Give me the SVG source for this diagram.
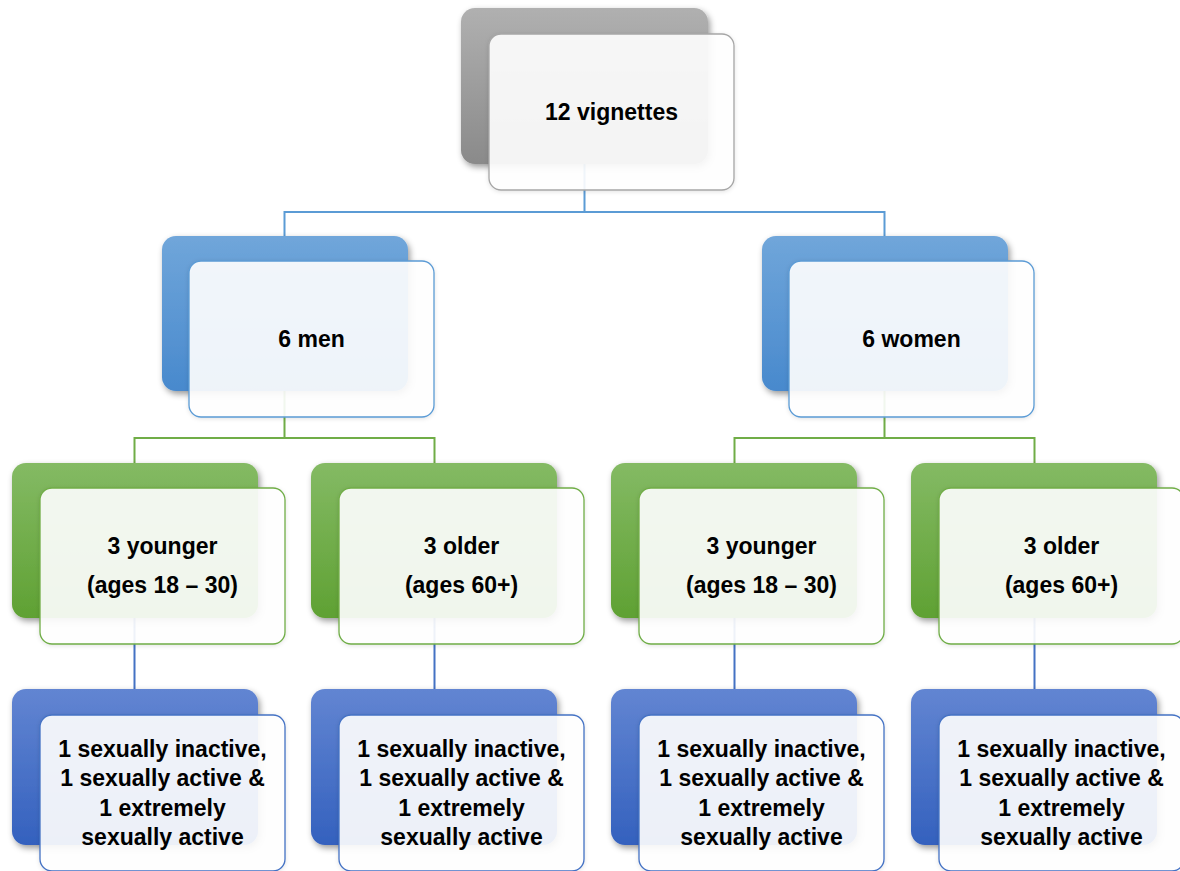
<svg xmlns="http://www.w3.org/2000/svg" width="1180" height="871" viewBox="0 0 1180 871">
<defs>
<linearGradient id="gGray" x1="0" y1="0" x2="0" y2="1"><stop offset="0" stop-color="#b0b0b0"/><stop offset="1" stop-color="#8a8a8a"/></linearGradient>
<linearGradient id="gBlue" x1="0" y1="0" x2="0" y2="1"><stop offset="0" stop-color="#70a6da"/><stop offset="1" stop-color="#4889cd"/></linearGradient>
<linearGradient id="gGreen" x1="0" y1="0" x2="0" y2="1"><stop offset="0" stop-color="#84ba64"/><stop offset="1" stop-color="#5fa133"/></linearGradient>
<linearGradient id="gDark" x1="0" y1="0" x2="0" y2="1"><stop offset="0" stop-color="#6285d2"/><stop offset="1" stop-color="#3461be"/></linearGradient>
<filter id="sh" x="-10%" y="-10%" width="125%" height="130%"><feDropShadow dx="2" dy="3" stdDeviation="3" flood-color="#000" flood-opacity="0.4"/></filter>
<filter id="sh2" x="-10%" y="-10%" width="125%" height="130%"><feDropShadow dx="0" dy="1" stdDeviation="2" flood-color="#000" flood-opacity="0.12"/></filter>
</defs>
<style>
.back{stroke:none;filter:url(#sh)}
.front{fill:#ffffff;fill-opacity:0.9;stroke-width:1.3;filter:url(#sh2)}
.t{font-family:"Liberation Sans",Arial,sans-serif;font-weight:bold;font-size:23px;fill:#000;text-anchor:middle}
.c{fill:none;stroke-width:2}
</style>
<g id="connectors">
<path class="c" stroke="#5b9bd5" d="M584.5 164 V212 M284.5 236 V212 H884.5 V236"/>
<path class="c" stroke="#70ad47" d="M284.5 391 V438 M134.5 463 V438 H434.5 V463 M884.5 391 V438 M734.5 463 V438 H1034.5 V463"/>
<path class="c" stroke="#4472c4" d="M134.5 618 V689 M434.5 618 V689 M734.5 618 V689 M1034.5 618 V689"/>
</g>
<g id="n-top">
<rect class="back" x="461" y="8" width="247" height="156" rx="14" fill="url(#gGray)"/>
<rect class="front" x="489" y="34" width="245" height="156" rx="12" stroke="#a6a6a6"/>
<text class="t" x="611.5" y="120">12 vignettes</text>
</g>
<g id="n-men">
<rect class="back" x="162" y="236" width="246" height="155" rx="14" fill="url(#gBlue)"/>
<rect class="front" x="189" y="261" width="245" height="156" rx="12" stroke="#5b9bd5"/>
<text class="t" x="311.5" y="347">6 men</text>
</g>
<g id="n-women">
<rect class="back" x="762" y="236" width="246" height="155" rx="14" fill="url(#gBlue)"/>
<rect class="front" x="789" y="261" width="245" height="156" rx="12" stroke="#5b9bd5"/>
<text class="t" x="911.5" y="347">6 women</text>
</g>
<g id="n-men-young">
<rect class="back" x="12" y="463" width="246" height="155" rx="14" fill="url(#gGreen)"/>
<rect class="front" x="40" y="488" width="245" height="156" rx="12" stroke="#70ad47"/>
<text class="t" x="162.5" y="554">3 younger</text>
<text class="t" x="162.5" y="593">(ages 18 – 30)</text>
</g>
<g id="n-men-old">
<rect class="back" x="311" y="463" width="246" height="155" rx="14" fill="url(#gGreen)"/>
<rect class="front" x="339" y="488" width="245" height="156" rx="12" stroke="#70ad47"/>
<text class="t" x="461.5" y="554">3 older</text>
<text class="t" x="461.5" y="593">(ages 60+)</text>
</g>
<g id="n-women-young">
<rect class="back" x="611" y="463" width="246" height="155" rx="14" fill="url(#gGreen)"/>
<rect class="front" x="639" y="488" width="245" height="156" rx="12" stroke="#70ad47"/>
<text class="t" x="761.5" y="554">3 younger</text>
<text class="t" x="761.5" y="593">(ages 18 – 30)</text>
</g>
<g id="n-women-old">
<rect class="back" x="911" y="463" width="246" height="155" rx="14" fill="url(#gGreen)"/>
<rect class="front" x="939" y="488" width="245" height="156" rx="12" stroke="#70ad47"/>
<text class="t" x="1061.5" y="554">3 older</text>
<text class="t" x="1061.5" y="593">(ages 60+)</text>
</g>
<g id="n-b1">
<rect class="back" x="12" y="689" width="246" height="156" rx="14" fill="url(#gDark)"/>
<rect class="front" x="40" y="715" width="245" height="156" rx="12" stroke="#4472c4"/>
<text class="t" x="162.5" y="757">1 sexually inactive,</text>
<text class="t" x="162.5" y="786">1 sexually active &amp;</text>
<text class="t" x="162.5" y="816">1 extremely</text>
<text class="t" x="162.5" y="845">sexually active</text>
</g>
<g id="n-b2">
<rect class="back" x="311" y="689" width="246" height="156" rx="14" fill="url(#gDark)"/>
<rect class="front" x="339" y="715" width="245" height="156" rx="12" stroke="#4472c4"/>
<text class="t" x="461.5" y="757">1 sexually inactive,</text>
<text class="t" x="461.5" y="786">1 sexually active &amp;</text>
<text class="t" x="461.5" y="816">1 extremely</text>
<text class="t" x="461.5" y="845">sexually active</text>
</g>
<g id="n-b3">
<rect class="back" x="611" y="689" width="246" height="156" rx="14" fill="url(#gDark)"/>
<rect class="front" x="639" y="715" width="245" height="156" rx="12" stroke="#4472c4"/>
<text class="t" x="761.5" y="757">1 sexually inactive,</text>
<text class="t" x="761.5" y="786">1 sexually active &amp;</text>
<text class="t" x="761.5" y="816">1 extremely</text>
<text class="t" x="761.5" y="845">sexually active</text>
</g>
<g id="n-b4">
<rect class="back" x="911" y="689" width="246" height="156" rx="14" fill="url(#gDark)"/>
<rect class="front" x="939" y="715" width="245" height="156" rx="12" stroke="#4472c4"/>
<text class="t" x="1061.5" y="757">1 sexually inactive,</text>
<text class="t" x="1061.5" y="786">1 sexually active &amp;</text>
<text class="t" x="1061.5" y="816">1 extremely</text>
<text class="t" x="1061.5" y="845">sexually active</text>
</g>
</svg>
